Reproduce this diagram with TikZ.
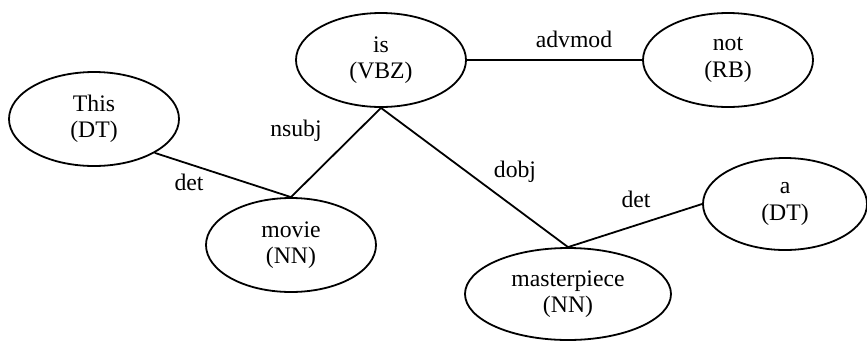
\documentclass[tikz,border=0pt]{standalone}
\usepackage{fontspec}
\setmainfont{Liberation Serif}
\usepackage{tikz}
\usetikzlibrary{positioning, shapes.geometric}

\begin{document}
\begin{tikzpicture}[
    x=1pt, y=-1pt,
    word/.style={ellipse, draw=black, line width=1.8pt, inner sep=0pt,
                 minimum width=170pt, minimum height=94pt, align=center,
                 font=\fontsize{23.7}{26.5}\selectfont},
    edge/.style={line width=1.8pt},
    rel/.style={anchor=base, font=\fontsize{23.7}{26.5}\selectfont}
]
    \useasboundingbox (0, 0) rectangle (867, 341);

    % Words
    \node[word] (this) at (94, 119) {This\\(DT)};
    \node[word] (is) at (381, 60) {is\\(VBZ)};
    \node[word] (not) at (728, 60) {not\\(RB)};
    \node[word] (movie) at (291, 245) {movie\\(NN)};
    \node[word, minimum width=164pt, minimum height=92pt] (a) at (785, 204) {a\\(DT)};
    \node[word, minimum width=206pt, minimum height=92pt] (masterpiece) at (568, 294) {masterpiece\\(NN)};

    % Dependencies
    \draw[edge] (this.south east) -- (movie.north);
    \draw[edge] (is.south) -- (movie.north);
    \draw[edge] (is.south) -- (masterpiece.north);
    \draw[edge] (masterpiece.north) -- (a.west);
    \draw[edge] (is.east) -- (not.west);

    % Relation labels
    \node[rel] (detthis) at (189, 190.5) {det};
    \node[rel] (nsubj) at (296, 136) {nsubj};
    \node[rel] (advmod) at (574, 47.5) {advmod};
    \node[rel] (dobj) at (515, 177) {dobj};
    \node[rel] (deta) at (636, 207) {det};

\end{tikzpicture}
\end{document}
